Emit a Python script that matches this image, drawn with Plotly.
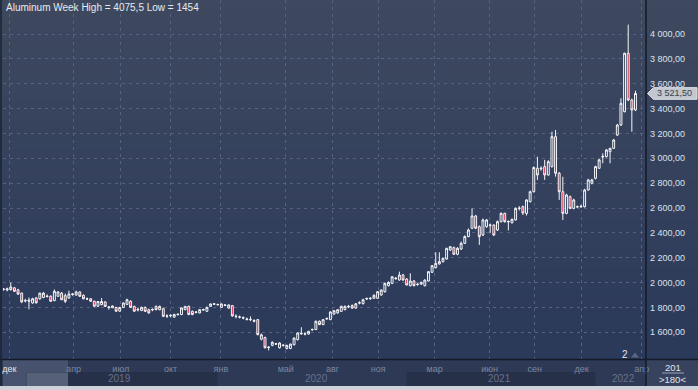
import plotly.graph_objects as go
import pandas as pd

# ---------------- data (weekly candles) ----------------
first_week = "2018-11-19"
opens = [1945,1940,1945,1958,1942,1915,1852,1860,1836,1876,1870,1880,1892,1890,1855,1890,1915,1895,1876,1905,
         1900,1925,1898,1870,1870,1850,1810,1822,1845,1805,1798,1800,1770,1801,1825,1850,1808,1780,1776,1800,
         1782,1780,1809,1782,1790,1732,1733,1722,1742,1743,1782,1809,1769,1760,1756,1780,1769,1809,1826,1822,
         1801,1816,1795,1815,1730,1724,1718,1708,1705,1695,1702,1545,1558,1482,1495,1505,1476,1494,1470,1470,
         1500,1541,1588,1585,1587,1620,1622,1689,1662,1708,1702,1747,1756,1769,1782,1805,1815,1795,1835,1830,
         1868,1870,1874,1874,1900,1927,1975,1994,2032,2021,2061,2029,1975,2013,1984,1988,1975,2013,2083,2120,
         2150,2168,2190,2262,2281,2228,2270,2316,2370,2437,2536,2450,2383,2450,2460,2463,2423,2490,2557,2488,
         2482,2504,2596,2611,2557,2651,2731,2920,2915,2933,2866,2933,3174,2880,2731,2557,2691,2597,2608,2610,
         2610,2745,2799,2839,2920,3010,3013,3053,3080,3187,3268,3375,3845,3469,3389]
highs = [1955,1960,2000,1965,1950,1920,1870,1880,1878,1885,1920,1925,1905,1898,1945,1930,1925,1912,1935,1915,
         1935,1930,1905,1880,1875,1855,1852,1876,1850,1812,1815,1805,1805,1840,1870,1858,1815,1795,1806,1808,
         1790,1792,1815,1815,1798,1745,1745,1750,1752,1800,1812,1815,1775,1772,1787,1790,1806,1832,1835,1830,
         1832,1826,1825,1820,1745,1735,1728,1718,1728,1705,1706,1590,1565,1490,1528,1515,1520,1502,1500,1510,
         1558,1598,1641,1598,1612,1630,1694,1695,1706,1720,1768,1778,1786,1814,1815,1820,1825,1835,1850,1870,
         1880,1882,1905,1930,1945,2000,2010,2052,2045,2088,2070,2035,2075,2020,1995,2008,2025,2092,2140,2244,
         2244,2200,2280,2292,2290,2285,2330,2380,2435,2597,2545,2460,2515,2512,2475,2470,2500,2565,2562,2500,
         2515,2605,2615,2620,2670,2740,2935,3013,2935,2987,2985,3214,3228,2890,2852,2715,2700,2675,2620,2625,
         2755,2835,2835,2940,2995,3040,3075,3085,3155,3275,3483,3850,4075.5,3480,3544]
lows = [1935,1930,1935,1925,1900,1835,1840,1785,1830,1830,1862,1875,1880,1845,1850,1885,1860,1836,1870,1895,
        1895,1885,1865,1860,1845,1805,1805,1818,1805,1782,1795,1765,1765,1795,1820,1795,1765,1768,1770,1765,
        1750,1770,1778,1778,1722,1715,1722,1718,1735,1738,1778,1738,1738,1752,1752,1772,1765,1805,1820,1815,
        1798,1810,1790,1725,1712,1712,1705,1695,1690,1680,1575,1535,1470,1454,1488,1498,1470,1485,1462,1465,
        1495,1535,1580,1576,1582,1612,1618,1658,1658,1700,1698,1742,1750,1765,1778,1795,1790,1790,1825,1825,
        1860,1862,1868,1870,1895,1920,1970,1988,2022,2015,2015,1978,1970,1970,1975,1982,1970,2008,2078,2115,
        2145,2162,2185,2255,2222,2220,2262,2310,2365,2430,2430,2303,2375,2440,2400,2375,2415,2485,2482,2420,
        2475,2500,2580,2544,2540,2645,2725,2826,2900,2826,2860,2925,2852,2665,2504,2550,2590,2590,2600,2600,
        2605,2740,2790,2830,2915,2960,3008,2960,3075,3180,3260,3370,3460,3214,3380]
closes = [1948,1950,1965,1930,1908,1845,1856,1850,1870,1838,1915,1915,1888,1850,1930,1925,1862,1850,1908,1908,
          1925,1890,1870,1868,1850,1810,1848,1848,1808,1800,1812,1770,1800,1836,1862,1801,1770,1785,1801,1769,
          1756,1784,1782,1809,1729,1730,1737,1743,1745,1796,1809,1743,1743,1763,1782,1783,1801,1828,1829,1824,
          1828,1820,1820,1732,1727,1722,1715,1704,1702,1690,1582,1580,1476,1478,1520,1508,1514,1497,1495,1505,
          1554,1595,1592,1588,1608,1623,1689,1662,1702,1711,1764,1774,1782,1809,1809,1808,1795,1830,1838,1862,
          1872,1874,1898,1927,1940,1994,2002,2047,2035,2061,2021,1981,2013,1975,1987,2002,2021,2088,2136,2155,
          2169,2196,2276,2289,2228,2276,2316,2370,2423,2536,2437,2370,2504,2504,2463,2383,2490,2557,2490,2492,
          2509,2597,2599,2560,2665,2731,2926,2866,2920,2866,2973,3174,2880,2731,2557,2705,2597,2665,2611,2614,
          2745,2826,2826,2933,2987,3015,3067,3080,3147,3268,3442,3845,3469,3389,3521.5]

month_ticks = ["2018-11-30", "2019-04-03", "2019-07-03", "2019-10-07", "2020-01-12", "2020-05-16",
               "2020-08-14", "2020-11-10", "2021-02-27", "2021-06-13", "2021-09-08", "2021-12-07", "2022-04-02"]
month_labels = ["дек", "апр", "июл", "окт", "янв", "май", "авг", "ноя", "мар", "июн", "сен", "дек", "апр"]
year_labels = ["2019", "2020", "2021", "2022"]
year_label_dates = ["2019-07-01", "2020-07-15", "2021-07-01", "2022-02-25"]
year_band_starts = ["2018-12-31", "2020-01-06", "2021-01-04", "2022-01-03"]
price_ticks = [1600, 1800, 2000, 2200, 2400, 2600, 2800, 3000, 3200, 3400, 3600, 3800, 4000]

title_text = "Aluminum Week High = 4075,5 Low = 1454"
last_price = closes[-1]

dates = pd.date_range(first_week, periods=len(opens), freq="7D")


def fmt_price(v):
    s = f"{v:,.2f}"
    return s.replace(",", " ").replace(".", ",")


# ---------------- geometry helpers (layout decoration only) ----------------
W, H = 698, 390
L_M, R_M, T_M, B_M = 3, 52, 0, 31
PW = W - L_M - R_M          # 643
PH = H - T_M - B_M          # 359


def xp(px):
    return (px - L_M) / PW


def yp(py):
    return (T_M + PH - py) / PH


fig = go.Figure()

fig.add_trace(go.Candlestick(
    x=dates, open=opens, high=highs, low=lows, close=closes,
    increasing=dict(line=dict(color="#f4f5f7", width=1), fillcolor="rgba(0,0,0,0)"),
    decreasing=dict(line=dict(color="#f4f5f7", width=1), fillcolor="#c8203f"),
    whiskerwidth=0, hoverinfo="skip", showlegend=False,
))

shapes = []
# vertical gradient background
top_c = (62, 73, 95)
bot_c = (43, 57, 90)
n = 36
for k in range(n):
    t = (k + 0.5) / n
    c = tuple(round(top_c[j] + (bot_c[j] - top_c[j]) * t) for j in range(3))
    shapes.append(dict(type="rect", xref="paper", yref="paper",
                       x0=xp(-2), x1=xp(W + 2), y0=yp(PH * (k + 1) / n + 0.6), y1=yp(PH * k / n),
                       fillcolor="rgb(%d,%d,%d)" % c, line=dict(width=0), layer="below"))
# bottom time strip
shapes.append(dict(type="rect", xref="paper", yref="paper", x0=xp(-2), x1=xp(646), y0=yp(387), y1=yp(359),
                   fillcolor="#2d3955", line=dict(width=0), layer="below"))
# alternating year bands
band_cols = ["#263049", "#2d3955", "#263049", "#2d3955"]
band_ends = year_band_starts[1:] + ["2022-04-11"]
for s0, s1, col in zip(year_band_starts, band_ends, band_cols):
    shapes.append(dict(type="rect", xref="x", yref="paper", x0=s0, x1=s1, y0=yp(386), y1=yp(372),
                       fillcolor=col, line=dict(width=0), layer="below"))
# scroller overlay on the left of the strip
shapes.append(dict(type="rect", xref="paper", yref="paper", x0=xp(3), x1=xp(68), y0=yp(386), y1=yp(360),
                   fillcolor="rgba(140,152,175,0.28)", line=dict(width=0), layer="below"))
shapes.append(dict(type="rect", xref="paper", yref="paper", x0=xp(27), x1=xp(68), y0=yp(386), y1=yp(373),
                   fillcolor="rgba(160,170,190,0.22)", line=dict(width=0), layer="below"))
# bottom right counter panel
shapes.append(dict(type="rect", xref="paper", yref="paper", x0=xp(646), x1=xp(W + 2), y0=yp(387), y1=yp(359),
                   fillcolor="#37435e", line=dict(width=0), layer="below"))
# light frame at the very bottom
shapes.append(dict(type="rect", xref="paper", yref="paper", x0=xp(-2), x1=xp(W + 2), y0=yp(H + 2), y1=yp(386),
                   fillcolor="#cfd2d8", line=dict(width=0), layer="above"))
# dark separators
shapes.append(dict(type="line", xref="paper", yref="paper", x0=xp(646), x1=xp(646), y0=yp(386), y1=yp(0),
                   line=dict(color="#141a27", width=1.5), layer="above"))
shapes.append(dict(type="line", xref="paper", yref="paper", x0=xp(0), x1=xp(W), y0=yp(359.5), y1=yp(359.5),
                   line=dict(color="#141a27", width=1.5), layer="above"))
shapes.append(dict(type="line", xref="paper", yref="paper", x0=xp(1), x1=xp(1), y0=yp(386), y1=yp(0),
                   line=dict(color="#1c2333", width=1.5), layer="above"))
# divider in the counter panel
shapes.append(dict(type="line", xref="paper", yref="paper", x0=xp(662), x1=xp(684), y0=yp(373), y1=yp(373),
                   line=dict(color="#9aa3b5", width=1), layer="above"))
# small triangle next to "2"
shapes.append(dict(type="path", xref="paper", yref="paper",
                   path="M %f,%f L %f,%f L %f,%f Z" % (xp(631), yp(357.5), xp(635), yp(352.5), xp(639), yp(357.5)),
                   fillcolor="#5b6782", line=dict(width=0), layer="above"))
# last price marker (pointer box on the price axis)
half = 5.8 * (4273.5 - 1385.4) / PH
shapes.append(dict(type="path", xref="paper", yref="y",
                   path="M %f,%f L %f,%f L %f,%f L %f,%f L %f,%f Z" % (
                       xp(647.5), last_price, xp(653.5), last_price + half, xp(697), last_price + half,
                       xp(697), last_price - half, xp(653.5), last_price - half),
                   fillcolor="#c2c6ce", line=dict(color="#e3e5ea", width=1), layer="above"))

annotations = [
    dict(text=title_text, xref="paper", yref="paper", x=xp(3.5), y=yp(8), xanchor="left", yanchor="middle",
         showarrow=False, font=dict(size=10, color="#e8eaee", family="Liberation Sans, Arial, sans-serif")),
    dict(text=fmt_price(last_price), xref="paper", yref="y", x=xp(655), y=last_price, xanchor="left",
         yanchor="middle", showarrow=False,
         font=dict(size=9, color="#39404c", family="Liberation Sans, Arial, sans-serif")),
    dict(text="2", xref="paper", yref="paper", x=xp(625), y=yp(354.5), xanchor="center", yanchor="middle",
         showarrow=False, font=dict(size=10, color="#e2e5ea", family="Liberation Sans, Arial, sans-serif")),
    dict(text="201", xref="paper", yref="paper", x=xp(673), y=yp(367), xanchor="center", yanchor="middle",
         showarrow=False, font=dict(size=9.5, color="#e2e5ea", family="Liberation Sans, Arial, sans-serif")),
    dict(text="&gt;180&lt;", xref="paper", yref="paper", x=xp(672), y=yp(379.5), xanchor="center",
         yanchor="middle", showarrow=False,
         font=dict(size=9.5, color="#e2e5ea", family="Liberation Sans, Arial, sans-serif")),
]
for lab, d in zip(year_labels, year_label_dates):
    annotations.append(dict(text=lab, xref="x", yref="paper", x=d, y=yp(378.5), xanchor="center",
                            yanchor="middle", showarrow=False,
                            font=dict(size=10, color="#66728c", family="Liberation Sans, Arial, sans-serif")))

tick_text = ['<span style="color:#e4e7ee">%s</span>' % month_labels[0]] + month_labels[1:]

fig.update_layout(
    width=W, height=H,
    margin=dict(l=L_M, r=R_M, t=T_M, b=B_M, pad=0),
    paper_bgcolor="#2d3955", plot_bgcolor="rgba(0,0,0,0)",
    shapes=shapes, annotations=annotations,
    showlegend=False, boxgap=0.25,
    font=dict(family="Liberation Sans, Arial, sans-serif"),
    xaxis=dict(
        type="date", range=["2018-11-18", "2022-04-10 07:00"],
        rangeslider=dict(visible=False),
        tickmode="array", tickvals=month_ticks, ticktext=tick_text,
        ticks="", ticklabelstandoff=3,
        tickfont=dict(size=9, color="#7b86a0"),
        showgrid=True, gridcolor="#56637f", gridwidth=1, griddash="3px,4px",
        zeroline=False, showline=False, fixedrange=True,
    ),
    yaxis=dict(
        side="right", range=[1385.4, 4273.5],
        tickmode="array", tickvals=price_ticks, ticktext=[fmt_price(v) for v in price_ticks],
        ticks="", ticklabelstandoff=3,
        tickfont=dict(size=9, color="#dde1e8"),
        showgrid=True, gridcolor="#56637f", gridwidth=1, griddash="3px,4px",
        zeroline=False, showline=False, fixedrange=True,
    ),
)

fig.write_html("out.html", config=dict(displayModeBar=False),
               post_script="document.body.style.margin='0';document.body.style.overflow='hidden';")
